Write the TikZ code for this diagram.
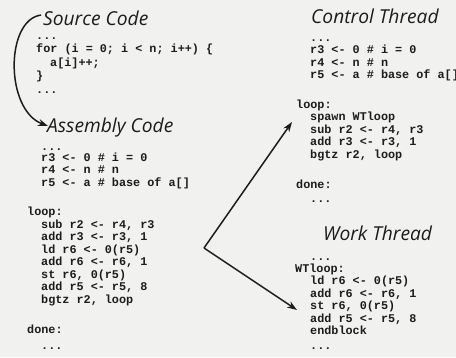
\documentclass[tikz,border=0pt]{standalone}
\usepackage{fontspec}
\setmonofont{Liberation Mono}
\newfontfamily\headfam{Open Sans}
\usetikzlibrary{arrows.meta}
\definecolor{bgc}{RGB}{241,241,239}
\definecolor{ink}{RGB}{28,28,28}
\newcommand\codefont{\ttfamily\bfseries\fontsize{11.8pt}{12.5pt}\selectfont}
\newcommand\headfont{\headfam\itshape\fontsize{19.2pt}{21pt}\selectfont}
\tikzset{
  code/.style={anchor=base west, inner sep=0pt, font=\codefont, text=ink},
  head/.style={anchor=base west, inner sep=0pt, font=\headfont, text=ink},
  conn/.style={draw=ink, line width=1.5pt, -{Stealth[length=10pt,width=7pt]}}
}
\begin{document}
\begin{tikzpicture}[x=1pt,y=-1pt]
\useasboundingbox (0,0) rectangle (456,357);
\fill[bgc] (0,0) rectangle (456,357);
\clip (0,0) rectangle (456,357);
% headings
\node[head] (src) at (43,25) {Source Code};
\node[head] (asm) at (47,132) {Assembly Code};
\node[head] (ctl) at (311,23) {Control Thread};
\node[head] (wrk) at (323,240) {Work Thread};
% source code
\node[code] (s1) at (36,39) {...};
\node[code] (s2) at (36,52.5) {for (i = 0; i < n; i++) \{};
\node[code] (s3) at (50,66) {a[i]++;};
\node[code] (s4) at (36,79.5) {\}};
\node[code] (s5) at (36,93) {...};
% assembly code
\node[code] (a1) at (41,150) {...};
\node[code] (a2) at (41,161) {r3 <- 0 \# i = 0};
\node[code] (a3) at (41,173.5) {r4 <- n \# n};
\node[code] (a4) at (41,186) {r5 <- a \# base of a[]};
\node[code] (a5) at (27,215) {loop:};
\node[code] (a6) at (41,228) {sub r2 <- r4, r3};
\node[code] (a7) at (41,240.5) {add r3 <- r3, 1};
\node[code] (a8) at (41,253) {ld r6 <- 0(r5)};
\node[code] (a9) at (41,265.5) {add r6 <- r6, 1};
\node[code] (a10) at (41,278) {st r6, 0(r5)};
\node[code] (a11) at (41,290.5) {add r5 <- r5, 8};
\node[code] (a12) at (41,303) {bgtz r2, loop};
\node[code] (a13) at (27,333) {done:};
\node[code] (a14) at (41,349) {...};
% control thread
\node[code] (c1) at (310,41) {...};
\node[code] (c2) at (310,53.5) {r3 <- 0 \# i = 0};
\node[code] (c3) at (310,66) {r4 <- n \# n};
\node[code] (c4) at (310,78.5) {r5 <- a \# base of a[]};
\node[code] (c5) at (296,108) {loop:};
\node[code] (c6) at (310,120.5) {spawn WTloop};
\node[code] (c7) at (310,133) {sub r2 <- r4, r3};
\node[code] (c8) at (310,145.5) {add r3 <- r3, 1};
\node[code] (c9) at (310,158) {bgtz r2, loop};
\node[code] (c10) at (296,188.5) {done:};
\node[code] (c11) at (310,202) {...};
% work thread
\node[code] (w1) at (310,260) {...};
\node[code] (w2) at (295,272) {WTloop:};
\node[code] (w3) at (310,284.5) {ld r6 <- 0(r5)};
\node[code] (w4) at (310,297) {add r6 <- r6, 1};
\node[code] (w5) at (310,309.5) {st r6, 0(r5)};
\node[code] (w6) at (310,322) {add r5 <- r5, 8};
\node[code] (w7) at (310,334.5) {endblock};
\node[code] (w8) at (310,349) {...};
% connectors
\coordinate (cs) at (41,15);
\coordinate (ce) at (48,126);
\coordinate (v) at (204,248);
\coordinate (t1) at (292,122);
\coordinate (t2) at (297,310);
\draw[conn] (cs) .. controls (5,20) and (5,110) .. (ce);
\draw[conn] (v) -- (t1);
\draw[conn] (v) -- (t2);
\end{tikzpicture}
\end{document}
